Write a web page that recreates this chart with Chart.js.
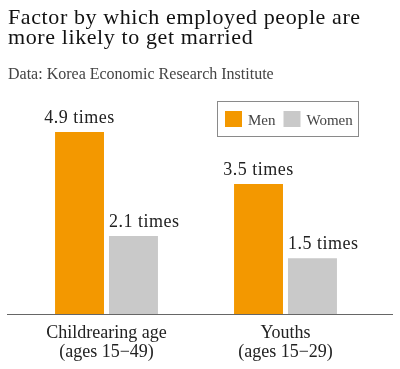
<!DOCTYPE html>
<html>
<head>
<meta charset="utf-8">
<script src="https://cdn.jsdelivr.net/npm/chart.js@4"></script>
<style>
  html, body { margin: 0; padding: 0; background: #fff; }
  #wrap { position: relative; width: 400px; height: 369px; overflow: hidden; }
  #chartBox { position: absolute; left: 0; top: 0; width: 400px; height: 369px; }
  .title {
    position: absolute; left: 8px; top: 6.6px; margin: 0;
    font: normal 22px/20px "Liberation Serif", serif; color: #111;
    letter-spacing: 0.6px; white-space: nowrap;
  }
  .source {
    position: absolute; left: 8px; top: 65.5px; margin: 0;
    font: normal 16px/16px "Liberation Serif", serif; color: #444;
    white-space: nowrap;
  }
</style>
</head>
<body>
<div id="wrap">
  <div id="chartBox"><canvas id="marryChart"></canvas></div>
  <h1 class="title">Factor by which employed people are<br>more likely to get married</h1>
  <p class="source">Data: Korea Economic Research Institute</p>
</div>
<script>
  // categories and series
  const CATEGORIES = [['Childrearing age', '(ages 15\u221249)'], ['Youths', '(ages 15\u221229)']];
  const SERIES_NAMES = ['Men', 'Women'];
  const MEN = [4.9, 3.5];
  const WOMEN = [2.1, 1.5];
  const UNIT = ' times';

  const ORANGE = '#f39800';
  const GREY = '#c9c9c9';
  const SERIF = '"Liberation Serif", serif';

  // value labels: men centred over bar, women starting at bar's left edge
  const barLabels = {
    id: 'barLabels',
    afterDatasetsDraw(chart) {
      const ctx = chart.ctx;
      ctx.save();
      ctx.font = '18px ' + SERIF;
      ctx.letterSpacing = '0.5px';
      ctx.fillStyle = '#222';
      ctx.textBaseline = 'alphabetic';
      chart.data.datasets.forEach(function (ds, di) {
        const meta = chart.getDatasetMeta(di);
        meta.data.forEach(function (bar, i) {
          const txt = ds.data[i].toFixed(1) + UNIT;
          if (di === 0) {
            ctx.textAlign = 'center';
            ctx.fillText(txt, bar.x, bar.y - 9);
          } else {
            ctx.textAlign = 'left';
            ctx.fillText(txt, bar.x - bar.width / 2, bar.y - 9);
          }
        });
      });
      // baseline
      const y0 = Math.round(chart.scales.y.getPixelForValue(0)) + 0.5;
      ctx.strokeStyle = '#666';
      ctx.lineWidth = 1;
      ctx.beginPath();
      ctx.moveTo(7, y0);
      ctx.lineTo(393, y0);
      ctx.stroke();
      ctx.restore();
    }
  };

  // boxed legend in upper right
  const boxLegend = {
    id: 'boxLegend',
    afterDraw(chart) {
      const ctx = chart.ctx;
      ctx.save();
      ctx.strokeStyle = '#8a8a8a';
      ctx.lineWidth = 1;
      ctx.strokeRect(217.5, 101.5, 141, 35);
      ctx.font = '15px ' + SERIF;
      ctx.fillStyle = '#444';
      ctx.textAlign = 'left';
      ctx.textBaseline = 'alphabetic';
      let x = 225;
      chart.data.datasets.forEach(function (ds) {
        ctx.fillStyle = ds.backgroundColor;
        ctx.fillRect(x, 111, 17, 16);
        ctx.fillStyle = '#444';
        ctx.fillText(ds.label, x + 23, 124.5);
        x += 23 + ctx.measureText(ds.label).width + 8;
      });
      ctx.restore();
    }
  };

  new Chart(document.getElementById('marryChart'), {
    type: 'bar',
    data: {
      labels: CATEGORIES,
      datasets: [
        { label: SERIES_NAMES[0], data: MEN, backgroundColor: ORANGE },
        { label: SERIES_NAMES[1], data: WOMEN, backgroundColor: GREY }
      ]
    },
    options: {
      responsive: true,
      maintainAspectRatio: false,
      animation: false,
      categoryPercentage: 0.603,
      barPercentage: 0.907,
      layout: { padding: { left: 17, right: 25, top: 91, bottom: 0 } },
      plugins: {
        legend: { display: false },
        tooltip: { enabled: false }
      },
      scales: {
        x: {
          grid: { display: false },
          border: { display: false },
          ticks: {
            color: '#222',
            padding: 2,
            font: { family: SERIF, size: 18, lineHeight: 1.05 }
          },
          afterFit: function (scale) { scale.height = 55; }
        },
        y: {
          display: false,
          min: 0,
          max: 6
        }
      }
    },
    plugins: [barLabels, boxLegend]
  });
</script>
</body>
</html>
